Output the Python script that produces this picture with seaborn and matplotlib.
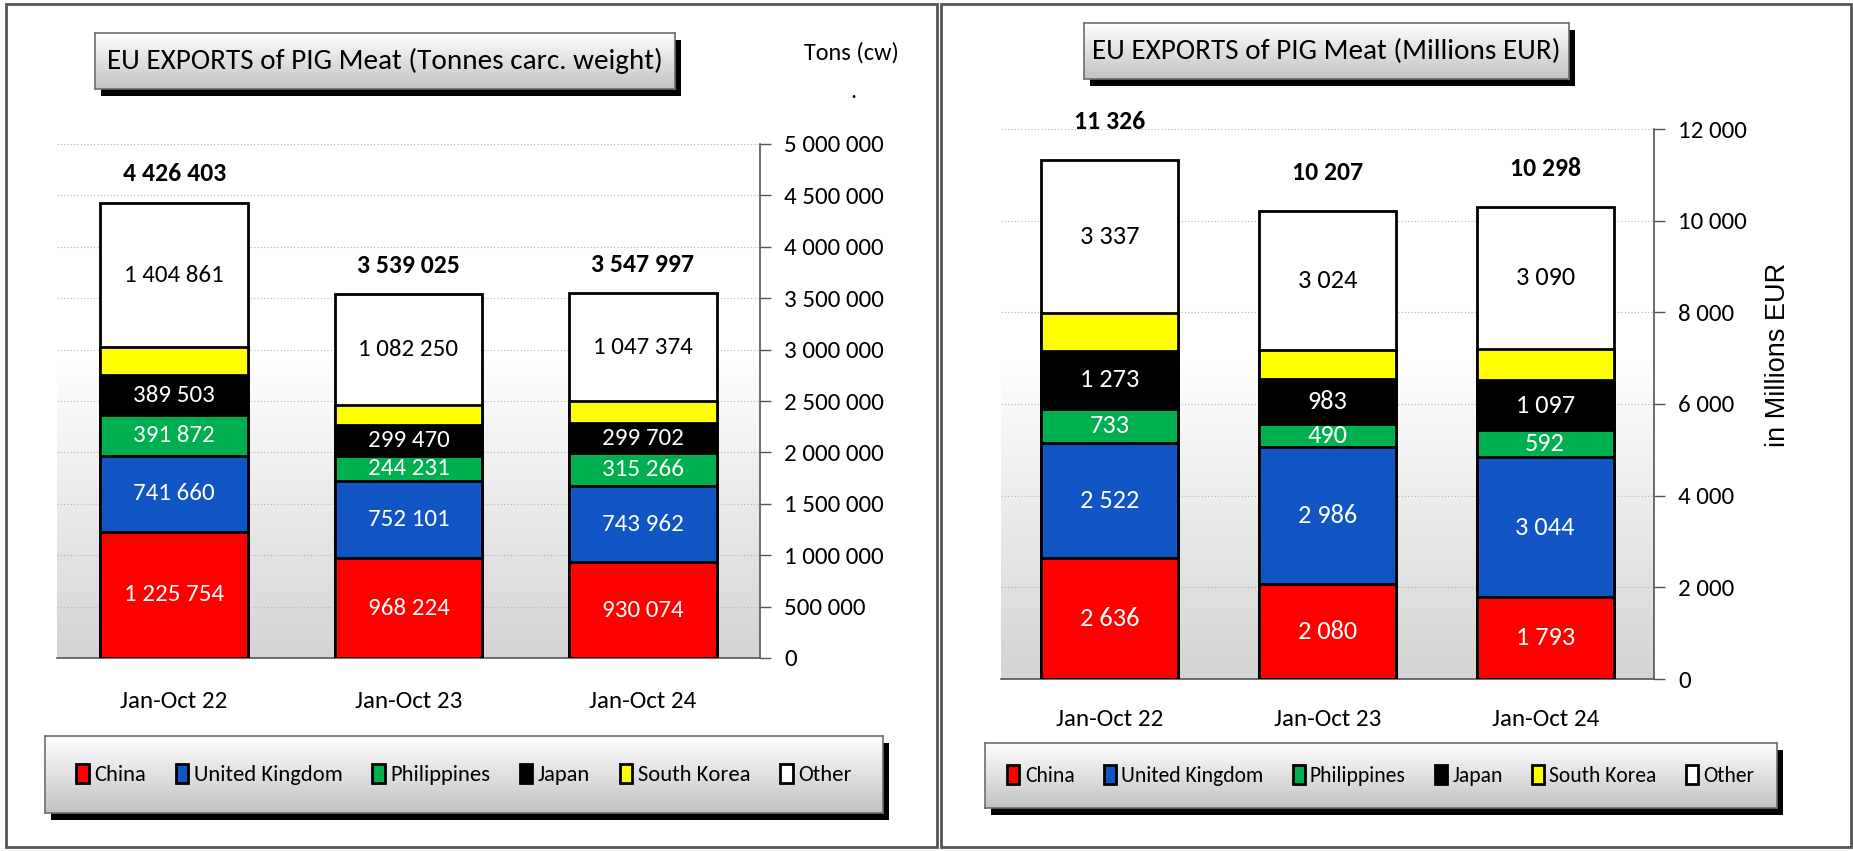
import numpy as np
import pandas as pd
import matplotlib
matplotlib.use("Agg")
import matplotlib.pyplot as plt
import seaborn as sns
from matplotlib.patches import Rectangle, Patch
from matplotlib.colors import LinearSegmentedColormap

# ---------------- data ----------------
periods = ["Jan-Oct 22", "Jan-Oct 23", "Jan-Oct 24"]
countries = ["China", "United Kingdom", "Philippines", "Japan", "South Korea", "Other"]
colors = ["#FF0000", "#1155C4", "#00B050", "#000000", "#FFFF00", "#FFFFFF"]

tonnes_china = [1225754, 968224, 930074]
tonnes_uk = [741660, 752101, 743962]
tonnes_philippines = [391872, 244231, 315266]
tonnes_japan = [389503, 299470, 299702]
tonnes_south_korea = [272753, 192749, 211619]
tonnes_other = [1404861, 1082250, 1047374]

eur_china = [2636, 2080, 1793]
eur_uk = [2522, 2986, 3044]
eur_philippines = [733, 490, 592]
eur_japan = [1273, 983, 1097]
eur_south_korea = [825, 644, 682]
eur_other = [3337, 3024, 3090]

tonnes_ticks = [0, 500000, 1000000, 1500000, 2000000, 2500000, 3000000, 3500000,
                4000000, 4500000, 5000000]
eur_ticks = [0, 2000, 4000, 6000, 8000, 10000, 12000]

labelled = [True, True, True, True, False, True]
text_colors = ["white", "white", "white", "white", "black", "black"]

# ---------------- style ----------------
sns.set_style("white")
plt.rcParams["font.family"] = ["Carlito", "Archivo Narrow", "DejaVu Sans"]
plt.rcParams["text.color"] = "black"

W, H = 1853, 851
fig = plt.figure(figsize=(W / 100, H / 100), dpi=100)


def rect(x0, y0, x1, y1):
    return [x0 / W, 1 - y1 / H, (x1 - x0) / W, (y1 - y0) / H]


def fmt(v):
    return f"{int(round(v)):,}".replace(",", " ")


plot_cmap = LinearSegmentedColormap.from_list(
    "bg", [(0.0, "#ffffff"), (0.42, "#ffffff"), (1.0, "#d4d4d4")])
box_cmap = LinearSegmentedColormap.from_list(
    "box", [(0.0, "#ffffff"), (1.0, "#c2c2c2")])


def gradient_box(box, shadow=(6, 7)):
    x0, y0, x1, y1 = box
    sx, sy = shadow
    r = rect(x0 + sx, y0 + sy, x1 + sx, y1 + sy)
    fig.patches.append(Rectangle((r[0], r[1]), r[2], r[3], transform=fig.transFigure,
                                 facecolor="black", edgecolor="none", zorder=-1))
    bax = fig.add_axes(rect(*box))
    grad = np.linspace(0, 1, 256).reshape(-1, 1)
    bax.imshow(grad, aspect="auto", cmap=box_cmap, extent=[0, 1, 0, 1], origin="upper")
    bax.set_xlim(0, 1)
    bax.set_ylim(0, 1)
    bax.set_xticks([])
    bax.set_yticks([])
    for s in bax.spines.values():
        s.set_color("#6e6e6e")
        s.set_linewidth(1.2)
    return bax


def stacked_panel(box, layers, ticks, ymax, xpad, total_off, seg_fs):
    ax = fig.add_axes(rect(*box))
    grad = np.linspace(0, 1, 256).reshape(-1, 1)
    ax.imshow(grad, aspect="auto", cmap=plot_cmap, extent=[-0.5, 2.5, 0, ymax],
              origin="upper", zorder=0)
    cum = np.cumsum(np.array(layers, dtype=float), axis=0)
    # draw cumulative bars from the top layer down so each lower layer overlays
    for k in range(len(layers) - 1, -1, -1):
        df = pd.DataFrame({"period": periods, "value": cum[k]})
        sns.barplot(data=df, x="period", y="value", color=colors[k], saturation=1,
                    edgecolor="black", linewidth=2.0, width=0.63, errorbar=None,
                    ax=ax, zorder=3)
    # segment labels
    for k in range(len(layers)):
        if not labelled[k]:
            continue
        for i in range(len(periods)):
            lo = cum[k - 1][i] if k > 0 else 0
            ax.text(i, (lo + cum[k][i]) / 2, fmt(layers[k][i]), ha="center",
                    va="center", color=text_colors[k], fontsize=seg_fs, zorder=5)
    # totals
    for i in range(len(periods)):
        ax.annotate(fmt(cum[-1][i]), (i, cum[-1][i]), xytext=(0, total_off),
                    textcoords="offset points", ha="center", va="center",
                    fontsize=18.5, fontweight="bold", zorder=5)
    ax.set_xlim(-0.5, 2.5)
    ax.set_ylim(0, ymax)
    ax.set_xlabel("")
    ax.set_ylabel("")
    ax.set_yticks(ticks)
    ax.set_yticklabels([fmt(t) for t in ticks], fontsize=18, color="black")
    ax.yaxis.tick_right()
    ax.tick_params(axis="y", direction="out", length=8, width=1, color="#555555",
                   pad=9.5, labelright=True, labelleft=False, left=False, right=True)
    ax.set_xticks(range(len(periods)))
    ax.set_xticklabels(periods, fontsize=18, color="black")
    ax.tick_params(axis="x", length=0, pad=xpad)
    ax.set_xticks([-0.5, 0.5, 1.5, 2.5], minor=True)
    ax.tick_params(axis="x", which="minor", direction="out", length=10, width=1,
                   color="#555555")
    ax.grid(False)
    ax.yaxis.grid(True, linestyle=(0, (1, 2)), color="#b5b5b5", linewidth=0.8)
    ax.set_axisbelow(True)
    for side in ["left", "top"]:
        ax.spines[side].set_visible(False)
    for side in ["right", "bottom"]:
        ax.spines[side].set_color("#555555")
        ax.spines[side].set_linewidth(1.2)
    return ax


# ---------------- panels ----------------
tonnes_layers = [tonnes_china, tonnes_uk, tonnes_philippines, tonnes_japan,
                 tonnes_south_korea, tonnes_other]
eur_layers = [eur_china, eur_uk, eur_philippines, eur_japan, eur_south_korea, eur_other]

axL = stacked_panel((57, 144, 760, 658), tonnes_layers, tonnes_ticks, 5000000, 24,
                    21, 18)
axR = stacked_panel((1001, 129, 1654, 679), eur_layers, eur_ticks, 12000, 21.5,
                    28, 19)

fig.text(1778 / W, 1 - 355 / H, "in Millions EUR", fontsize=19.5, rotation=90,
         ha="center", va="center", family=["Liberation Sans", "DejaVu Sans"])
fig.text(804 / W, 1 - 53 / H, "Tons (cw)", fontsize=17.5, ha="left", va="center")
fig.text(853 / W, 1 - 92 / H, ".", fontsize=17.5, ha="center", va="center")

# titles
t1 = gradient_box((95, 33, 675, 89))
t1.text(0.5, 0.5, "EU EXPORTS of PIG Meat (Tonnes carc. weight)", ha="center",
        va="center", fontsize=21, transform=t1.transAxes)
t2 = gradient_box((1084, 23, 1569, 79))
t2.text(0.5, 0.5, "EU EXPORTS of PIG Meat (Millions EUR)", ha="center",
        va="center", fontsize=21, transform=t2.transAxes)

# legends
handles = [Patch(facecolor=c, edgecolor="black", linewidth=2) for c in colors]
for box, fs, cs in [((45, 736, 883, 813), 16.2, 1.32), ((985, 743, 1777, 808), 15.6, 1.35)]:
    lb = gradient_box(box)
    lb.legend(handles, countries, loc="center", ncol=6, frameon=False,
              fontsize=fs, handlelength=0.55, handleheight=0.95, handletextpad=0.25,
              columnspacing=cs)

# panel frames
for (x0, y0, x1, y1) in [(6, 4, 937, 847), (941, 4, 1851, 847)]:
    fig.patches.append(Rectangle((x0 / W, 1 - y1 / H), (x1 - x0) / W, (y1 - y0) / H,
                                 transform=fig.transFigure, fill=False,
                                 edgecolor="#555555", linewidth=2, zorder=10))

fig.savefig("out.png", dpi=100)
